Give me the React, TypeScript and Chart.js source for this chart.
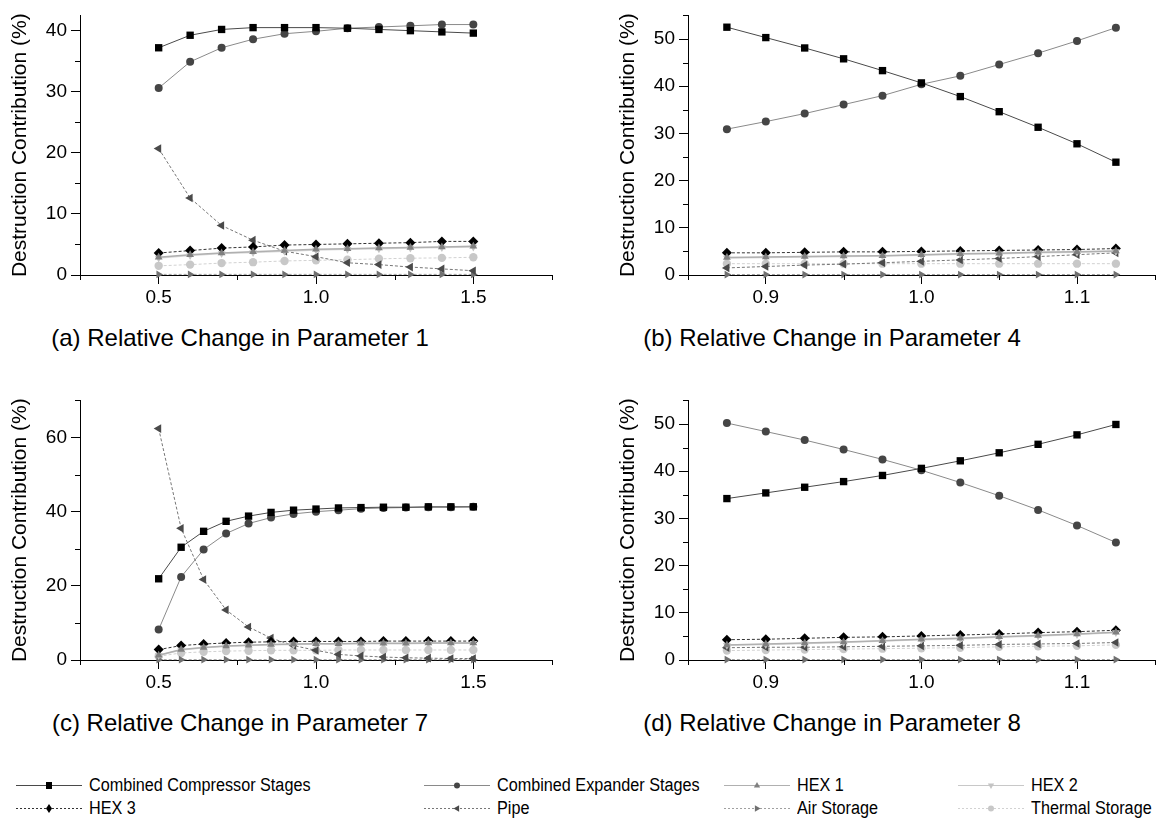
import React, { useEffect, useRef } from "react";
import { Chart, registerables } from "chart.js";
Chart.register(...registerables);

const FONT = "'Liberation Sans', Arial, Helvetica, sans-serif";

// ---------- data ----------
const seriesNames = [
  "Combined Compressor Stages",
  "Combined Expander Stages",
  "HEX 1",
  "HEX 2",
  "HEX 3",
  "Pipe",
  "Air Storage",
  "Thermal Storage",
];

// Panel (a) – Parameter 1
const xA = [0.5, 0.6, 0.7, 0.8, 0.9, 1.0, 1.1, 1.2, 1.3, 1.4, 1.5];
const compA = [37.2, 39.25, 40.2, 40.5, 40.5, 40.5, 40.4, 40.2, 40.0, 39.8, 39.6];
const expA = [30.6, 34.9, 37.2, 38.6, 39.5, 39.9, 40.4, 40.6, 40.8, 41.0, 41.0];
const hex1A = [2.9, 3.3, 3.6, 3.8, 4.0, 4.2, 4.3, 4.4, 4.5, 4.6, 4.7];
const hex2A = [2.8, 3.2, 3.5, 3.7, 3.9, 4.1, 4.2, 4.3, 4.4, 4.5, 4.6];
const hex3A = [3.6, 4.0, 4.4, 4.6, 4.9, 5.0, 5.1, 5.2, 5.3, 5.5, 5.5];
const pipeA = [20.7, 12.6, 8.1, 5.7, 3.9, 3.0, 2.0, 1.7, 1.3, 1.0, 0.7];
const airA = [0.1, 0.1, 0.1, 0.1, 0.1, 0.1, 0.1, 0.1, 0.1, 0.1, 0.1];
const thermA = [1.5, 1.7, 1.95, 2.1, 2.3, 2.4, 2.5, 2.65, 2.75, 2.8, 2.9];

// Panel (b) – Parameter 4
const xB = [0.875, 0.9, 0.925, 0.95, 0.975, 1.0, 1.025, 1.05, 1.075, 1.1, 1.125];
const compB = [52.5, 50.3, 48.1, 45.8, 43.3, 40.7, 37.8, 34.6, 31.3, 27.8, 23.9];
const expB = [30.9, 32.5, 34.2, 36.1, 38.0, 40.4, 42.2, 44.6, 47.0, 49.6, 52.4];
const hex1B = [3.7, 3.8, 3.9, 4.0, 4.1, 4.3, 4.5, 4.6, 4.8, 4.9, 5.1];
const hex2B = [3.6, 3.7, 3.8, 3.9, 4.0, 4.2, 4.4, 4.5, 4.7, 4.8, 5.0];
const hex3B = [4.7, 4.7, 4.8, 4.9, 4.9, 5.0, 5.1, 5.2, 5.3, 5.4, 5.6];
const pipeB = [1.5, 1.8, 2.1, 2.3, 2.6, 2.9, 3.2, 3.5, 3.9, 4.3, 4.7];
const airB = [0.1, 0.1, 0.1, 0.1, 0.1, 0.1, 0.1, 0.1, 0.1, 0.1, 0.1];
const thermB = [2.4, 2.4, 2.4, 2.4, 2.4, 2.4, 2.4, 2.4, 2.4, 2.4, 2.4];

// Panel (c) – Parameter 7
const xC = [0.5, 0.5714, 0.6429, 0.7143, 0.7857, 0.8571, 0.9286, 1.0, 1.0714, 1.1429, 1.2143, 1.2857, 1.3571, 1.4286, 1.5];
const compC = [21.9, 30.4, 34.7, 37.4, 38.8, 39.8, 40.4, 40.7, 41.0, 41.1, 41.2, 41.2, 41.3, 41.3, 41.3];
const expC = [8.2, 22.4, 29.8, 34.1, 36.8, 38.4, 39.4, 40.0, 40.4, 40.8, 41.0, 41.1, 41.2, 41.2, 41.3];
const hex1C = [1.3, 2.8, 3.4, 3.8, 4.0, 4.2, 4.3, 4.4, 4.4, 4.5, 4.5, 4.5, 4.6, 4.6, 4.6];
const hex2C = [1.2, 2.7, 3.3, 3.7, 3.9, 4.1, 4.2, 4.3, 4.3, 4.4, 4.4, 4.4, 4.5, 4.5, 4.5];
const hex3C = [2.8, 3.9, 4.3, 4.6, 4.8, 4.9, 5.0, 5.0, 5.0, 5.0, 5.1, 5.1, 5.1, 5.1, 5.1];
const pipeC = [62.4, 35.5, 21.7, 13.5, 8.9, 5.9, 3.9, 2.6, 1.5, 1.1, 0.8, 0.6, 0.5, 0.4, 0.4];
const airC = [0.1, 0.1, 0.1, 0.1, 0.1, 0.1, 0.1, 0.1, 0.1, 0.1, 0.1, 0.1, 0.1, 0.1, 0.1];
const thermC = [1.0, 1.9, 2.2, 2.4, 2.5, 2.6, 2.6, 2.6, 2.7, 2.7, 2.7, 2.7, 2.7, 2.7, 2.7];

// Panel (d) – Parameter 8
const xD = [0.875, 0.9, 0.925, 0.95, 0.975, 1.0, 1.025, 1.05, 1.075, 1.1, 1.125];
const compD = [34.2, 35.4, 36.6, 37.8, 39.1, 40.6, 42.2, 43.9, 45.7, 47.7, 49.9];
const expD = [50.2, 48.4, 46.6, 44.6, 42.5, 40.2, 37.6, 34.8, 31.8, 28.5, 24.9];
const hex1D = [3.2, 3.4, 3.6, 3.8, 4.1, 4.4, 4.6, 4.9, 5.2, 5.5, 5.9];
const hex2D = [3.1, 3.3, 3.5, 3.7, 4.0, 4.3, 4.5, 4.8, 5.1, 5.4, 5.8];
const hex3D = [4.3, 4.4, 4.6, 4.8, 4.9, 5.1, 5.3, 5.5, 5.8, 6.0, 6.3];
const pipeD = [2.6, 2.7, 2.7, 2.8, 2.9, 3.0, 3.1, 3.3, 3.4, 3.5, 3.7];
const airD = [0.1, 0.1, 0.1, 0.1, 0.1, 0.1, 0.1, 0.1, 0.1, 0.1, 0.1];
const thermD = [2.0, 2.1, 2.2, 2.3, 2.4, 2.5, 2.6, 2.8, 2.9, 3.0, 3.2];

// Tick labels / axes
const xTicksWide = [0.5, 1.0, 1.5];
const xMinorWide = [0.25, 0.75, 1.25, 1.75];
const xTicksNarrow = [0.9, 1.0, 1.1];
const xMinorNarrow = [0.85, 0.95, 1.05, 1.15];
const yTicksA = [0, 10, 20, 30, 40];
const yMinorA = [5, 15, 25, 35];
const yTicks55 = [0, 10, 20, 30, 40, 50];
const yMinor55 = [5, 15, 25, 35, 45, 55];
const yTicksC = [0, 20, 40, 60];
const yMinorC = [10, 30, 50, 70];

const captions = [
  "(a) Relative Change in Parameter 1",
  "(b) Relative Change in Parameter 4",
  "(c) Relative Change in Parameter 7",
  "(d) Relative Change in Parameter 8",
];
const yTitle = "Destruction Contribution (%)";

// ---------- styles ----------
type Sty = {
  point: string;
  rot: number;
  r: number;
  fill: string;
  line: string;
  width: number;
  dash: number[];
};
const styles: Sty[] = [
  { point: "rect", rot: 0, r: 5.2, fill: "#000000", line: "#4a4a4a", width: 1, dash: [] },
  { point: "circle", rot: 0, r: 4, fill: "#454545", line: "#8a8a8a", width: 1, dash: [] },
  { point: "triangle", rot: 0, r: 4.5, fill: "#808080", line: "#b0b0b0", width: 1.5, dash: [] },
  { point: "triangle", rot: 180, r: 4.5, fill: "#c4c4c4", line: "#dadada", width: 1.5, dash: [] },
  { point: "rectRot", rot: 0, r: 5, fill: "#000000", line: "#333333", width: 1, dash: [3, 2] },
  { point: "triangle", rot: -90, r: 5, fill: "#4a4a4a", line: "#777777", width: 1, dash: [3, 2] },
  { point: "triangle", rot: 90, r: 4.5, fill: "#707070", line: "#a0a0a0", width: 1, dash: [3, 2] },
  { point: "circle", rot: 0, r: 4.2, fill: "#c8c8c8", line: "#d2d2d2", width: 1, dash: [3, 2] },
];

const minorTickPlugin = {
  id: "minorTicks",
  afterDraw(chart: any, _args: any, opts: any) {
    const ctx = chart.ctx;
    const xs = chart.scales.x;
    const ys = chart.scales.y;
    ctx.save();
    ctx.strokeStyle = "#000";
    ctx.lineWidth = 1;
    for (const v of opts.xMinor || []) {
      const px = Math.round(xs.getPixelForValue(v)) + 0.5;
      ctx.beginPath();
      ctx.moveTo(px, ys.bottom);
      ctx.lineTo(px, ys.bottom + 5);
      ctx.stroke();
    }
    for (const v of opts.yMinor || []) {
      const py = Math.round(ys.getPixelForValue(v)) + 0.5;
      ctx.beginPath();
      ctx.moveTo(xs.left, py);
      ctx.lineTo(xs.left - 5, py);
      ctx.stroke();
    }
    ctx.restore();
  },
};

type PanelDef = {
  xs: number[];
  series: number[][];
  xMin: number;
  xMax: number;
  yMax: number;
  xTicks: number[];
  xMinor: number[];
  yTicks: number[];
  yMinor: number[];
  left: number;
  top: number;
  width: number;
  yAxisW: number;
  padTop: number;
  padRight: number;
};

const CANVAS_H = 310;
const X_AXIS_H = 35;

const panels: PanelDef[] = [
  {
    xs: xA, series: [compA, expA, hex1A, hex2A, hex3A, pipeA, airA, thermA],
    xMin: 0.25, xMax: 1.75, yMax: 42.5, xTicks: xTicksWide, xMinor: xMinorWide,
    yTicks: yTicksA, yMinor: yMinorA, left: 6, top: 0, width: 560, yAxisW: 74, padTop: 8, padRight: 14,
  },
  {
    xs: xB, series: [compB, expB, hex1B, hex2B, hex3B, pipeB, airB, thermB],
    xMin: 0.85, xMax: 1.15, yMax: 55, xTicks: xTicksNarrow, xMinor: xMinorNarrow,
    yTicks: yTicks55, yMinor: yMinor55, left: 614, top: 0, width: 546, yAxisW: 74, padTop: 7, padRight: 2,
  },
  {
    xs: xC, series: [compC, expC, hex1C, hex2C, hex3C, pipeC, airC, thermC],
    xMin: 0.25, xMax: 1.75, yMax: 70, xTicks: xTicksWide, xMinor: xMinorWide,
    yTicks: yTicksC, yMinor: yMinorC, left: 6, top: 385, width: 560, yAxisW: 74, padTop: 9, padRight: 14,
  },
  {
    xs: xD, series: [compD, expD, hex1D, hex2D, hex3D, pipeD, airD, thermD],
    xMin: 0.85, xMax: 1.15, yMax: 55, xTicks: xTicksNarrow, xMinor: xMinorNarrow,
    yTicks: yTicks55, yMinor: yMinor55, left: 614, top: 385, width: 546, yAxisW: 74, padTop: 10, padRight: 2,
  },
];

function Panel({ def }: { def: PanelDef }) {
  const ref = useRef<HTMLCanvasElement | null>(null);
  useEffect(() => {
    if (!ref.current) return;
    const datasets = def.series.map((vals, si) => {
      const s = styles[si];
      return {
        label: seriesNames[si],
        data: def.xs.map((x, i) => ({ x, y: vals[i] })),
        borderColor: s.line,
        borderWidth: s.width,
        borderDash: s.dash,
        backgroundColor: s.fill,
        pointBackgroundColor: s.fill,
        pointBorderColor: s.fill,
        pointBorderWidth: 0,
        pointStyle: s.point,
        pointRotation: s.rot,
        pointRadius: s.r,
        tension: 0,
        fill: false,
        clip: false as any,
      };
    });
    const chart = new Chart(ref.current, {
      type: "line",
      data: { datasets: datasets as any },
      plugins: [minorTickPlugin],
      options: {
        animation: false,
        responsive: false,
        maintainAspectRatio: false,
        events: [],
        layout: { padding: { top: def.padTop, right: def.padRight, left: 0, bottom: 0 } },
        plugins: {
          legend: { display: false },
          tooltip: { enabled: false },
          minorTicks: { xMinor: def.xMinor, yMinor: def.yMinor },
        } as any,
        scales: {
          x: {
            type: "linear",
            min: def.xMin,
            max: def.xMax,
            afterBuildTicks: (sc: any) => {
              sc.ticks = def.xTicks.map((v) => ({ value: v }));
            },
            afterFit: (sc: any) => {
              sc.height = X_AXIS_H;
            },
            ticks: {
              color: "#000",
              font: { family: FONT, size: 19 },
              padding: 2,
              maxRotation: 0,
              autoSkip: false,
              callback: (v: any) => Number(v).toFixed(1),
            },
            grid: { display: true, drawOnChartArea: false, drawTicks: true, tickLength: 9, tickColor: "#000", tickWidth: 1 },
            border: { display: true, color: "#000", width: 1 },
          },
          y: {
            type: "linear",
            min: 0,
            max: def.yMax,
            afterBuildTicks: (sc: any) => {
              sc.ticks = def.yTicks.map((v) => ({ value: v }));
            },
            afterFit: (sc: any) => {
              sc.width = def.yAxisW;
            },
            ticks: {
              color: "#000",
              font: { family: FONT, size: 19 },
              padding: 4,
              autoSkip: false,
              callback: (v: any) => String(v),
            },
            grid: { display: true, drawOnChartArea: false, drawTicks: true, tickLength: 9, tickColor: "#000", tickWidth: 1 },
            border: { display: true, color: "#000", width: 1 },
            title: {
              display: true,
              text: yTitle,
              color: "#000",
              font: { family: FONT, size: 21 },
              padding: { top: 2, bottom: 0 },
            },
          },
        },
      } as any,
    });
    return () => chart.destroy();
  }, [def]);
  return (
    <canvas
      ref={ref}
      width={def.width}
      height={CANVAS_H}
      style={{ position: "absolute", left: def.left, top: def.top, width: def.width, height: CANVAS_H }}
    />
  );
}

function Sample({ s }: { s: Sty }) {
  const w = 66;
  const cx = w / 2;
  const cy = 7;
  let marker: React.ReactNode = null;
  const r = 3.5;
  if (s.point === "rect") marker = <rect x={cx - 3} y={cy - 3} width={6} height={7} fill={s.fill} />;
  else if (s.point === "circle") marker = <circle cx={cx} cy={cy + 0.5} r={3} fill={s.fill} />;
  else if (s.point === "rectRot")
    marker = <polygon points={`${cx},${cy - 4} ${cx + 3},${cy + 0.5} ${cx},${cy + 5} ${cx - 3},${cy + 0.5}`} fill={s.fill} />;
  else {
    const pts = [
      [0, -r],
      [r * 0.9, r * 0.6],
      [-r * 0.9, r * 0.6],
    ];
    const a = (s.rot * Math.PI) / 180;
    const p = pts
      .map(([x, y]) => `${cx + x * Math.cos(a) - y * Math.sin(a)},${cy + 0.5 + x * Math.sin(a) + y * Math.cos(a)}`)
      .join(" ");
    marker = <polygon points={p} fill={s.fill} />;
  }
  return (
    <svg width={w} height={14} style={{ display: "block", marginRight: 7, flex: "none" }}>
      <line
        x1={0}
        y1={cy + 0.5}
        x2={w}
        y2={cy + 0.5}
        stroke={s.line === "#dadada" ? "#c8c8c8" : s.line}
        strokeWidth={1}
        strokeDasharray={s.dash.length ? "2 2" : undefined}
      />
      {marker}
    </svg>
  );
}

const legendCols = [16, 424, 724, 958];
const legendRows = [785, 808];
const captionCenters = [240, 832];

export default function App() {
  return (
    <div style={{ position: "absolute", left: 0, top: 0, width: 1160, height: 823, background: "#fff", overflow: "hidden" }}>
      {panels.map((p, i) => (
        <Panel key={i} def={p} />
      ))}
      {captions.map((c, i) => {
        const p = panels[i];
        return (
          <div
            key={c}
            style={{
              position: "absolute",
              left: captionCenters[i % 2] - 250,
              width: 500,
              top: p.top + 325,
              textAlign: "center",
              fontFamily: FONT,
              fontSize: 24,
              color: "#000",
              whiteSpace: "nowrap",
              lineHeight: "26px",
            }}
          >
            {c}
          </div>
        );
      })}
      {seriesNames.map((n, i) => {
        const col = i % 4;
        const row = Math.floor(i / 4);
        return (
          <div
            key={n}
            style={{
              position: "absolute",
              left: legendCols[col],
              top: legendRows[row] - 11,
              height: 22,
              fontFamily: FONT,
              fontSize: 18,
              color: "#000",
              whiteSpace: "nowrap",
              lineHeight: "22px",
              display: "flex",
              alignItems: "center",
            }}
          >
            <Sample s={styles[i]} />
            <span style={{ display: "inline-block", transform: "scaleX(0.9)", transformOrigin: "left center" }}>{n}</span>
          </div>
        );
      })}
    </div>
  );
}
